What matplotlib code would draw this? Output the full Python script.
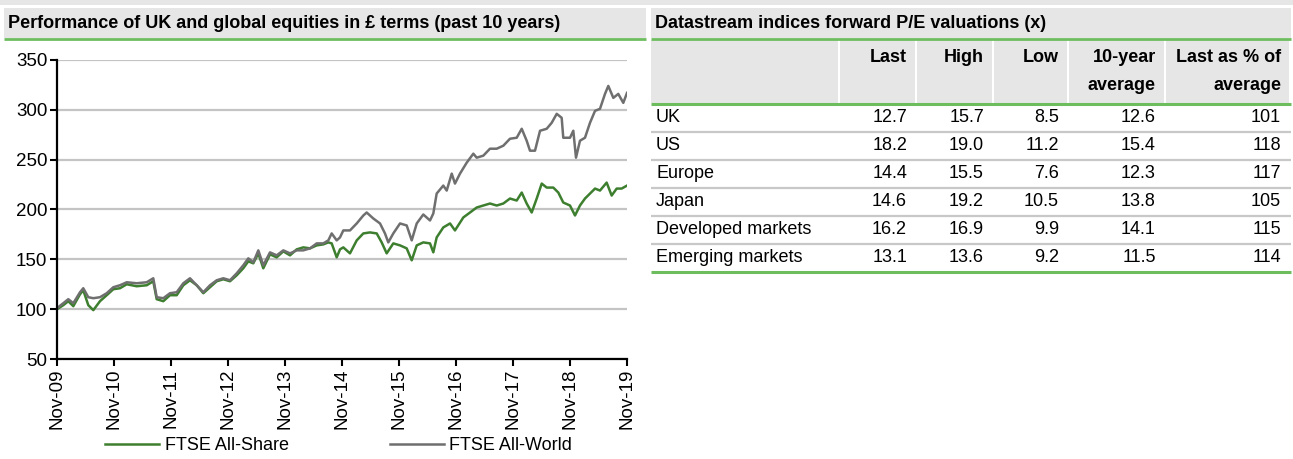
import matplotlib.pyplot as plt
from matplotlib.patches import Rectangle

plt.rcParams['font.family'] = ['Liberation Sans', 'DejaVu Sans']

# ---- chart data (years since Nov-09) ----
years_world = [0.0, 0.111, 0.198, 0.286, 0.404, 0.461, 0.549, 0.637, 0.754, 0.872,
               0.988, 1.105, 1.223, 1.398, 1.574, 1.689, 1.749, 1.865, 1.982, 2.1,
               2.216, 2.333, 2.451, 2.567, 2.684, 2.802, 2.918, 3.035, 3.153, 3.268,
               3.356, 3.444, 3.532, 3.619, 3.737, 3.854, 3.970, 4.088, 4.205, 4.321,
               4.439, 4.556, 4.672, 4.760, 4.819, 4.907, 4.965, 5.023, 5.140, 5.258,
               5.374, 5.433, 5.549, 5.667, 5.754, 5.812, 5.9, 6.018, 6.135, 6.223,
               6.311, 6.426, 6.544, 6.602, 6.661, 6.777, 6.837, 6.925, 6.982, 7.070,
               7.188, 7.304, 7.363, 7.479, 7.596, 7.714, 7.830, 7.947, 8.065, 8.153,
               8.240, 8.298, 8.386, 8.474, 8.591, 8.679, 8.767, 8.854, 8.882, 9.0,
               9.058, 9.105, 9.175, 9.263, 9.351, 9.439, 9.526, 9.614, 9.672, 9.760,
               9.847, 9.935, 10.0]
ftse_world = [101, 106, 110, 106, 117, 121, 112, 111, 112, 116,
              122, 124, 127, 126, 127, 131, 112, 111, 116, 117,
              126, 131, 124, 117, 124, 129, 131, 129, 136, 144,
              151, 147, 159, 144, 157, 154, 159, 156, 159, 159,
              161, 166, 166, 169, 176, 169, 172, 179, 179, 186,
              194, 197, 191, 186, 176, 167, 176, 186, 184, 169,
              186, 195, 189, 196, 216, 224, 219, 236, 226, 236,
              247, 256, 252, 254, 261, 261, 264, 271, 272, 281,
              269, 259, 259, 279, 281, 287, 296, 292, 272, 272,
              279, 252, 269, 272, 287, 299, 301, 316, 324, 312,
              316, 307, 317]

years_share = [0.0, 0.111, 0.198, 0.286, 0.404, 0.461, 0.549, 0.637, 0.754, 0.872,
               0.988, 1.105, 1.223, 1.398, 1.574, 1.689, 1.749, 1.865, 1.982, 2.1,
               2.216, 2.333, 2.451, 2.567, 2.684, 2.802, 2.918, 3.035, 3.153, 3.268,
               3.356, 3.444, 3.532, 3.619, 3.737, 3.854, 3.970, 4.088, 4.205, 4.321,
               4.439, 4.556, 4.672, 4.760, 4.819, 4.907, 4.965, 5.023, 5.140, 5.258,
               5.374, 5.491, 5.609, 5.696, 5.784, 5.9, 6.018, 6.135, 6.223, 6.311,
               6.426, 6.544, 6.602, 6.661, 6.777, 6.895, 6.982, 7.128, 7.246, 7.363,
               7.479, 7.596, 7.714, 7.830, 7.947, 8.065, 8.153, 8.240, 8.328, 8.416,
               8.504, 8.591, 8.707, 8.795, 8.882, 9.0, 9.088, 9.175, 9.263, 9.351,
               9.439, 9.526, 9.643, 9.731, 9.819, 9.906, 10.0]
ftse_share = [100, 104, 108, 103, 115, 119, 104, 99, 108, 114,
              120, 121, 125, 123, 124, 128, 110, 108, 114, 114,
              124, 129, 124, 116, 122, 128, 130, 128, 134, 141,
              148, 146, 156, 141, 155, 152, 158, 154, 160, 162,
              161, 164, 165, 167, 166, 152, 160, 162, 156, 169,
              176, 177, 176, 167, 156, 166, 164, 161, 149, 164,
              167, 166, 157, 172, 182, 186, 179, 192, 197, 202,
              204, 206, 204, 206, 211, 209, 217, 206, 197, 211,
              226, 222, 222, 217, 207, 204, 194, 204, 211, 216,
              221, 219, 227, 214, 221, 221, 224]

x_tick_labels = ['Nov-09', 'Nov-10', 'Nov-11', 'Nov-12', 'Nov-13', 'Nov-14',
                 'Nov-15', 'Nov-16', 'Nov-17', 'Nov-18', 'Nov-19']
series_names = ['FTSE All-Share', 'FTSE All-World']

# ---- table data ----
regions = ['UK', 'US', 'Europe', 'Japan', 'Developed markets', 'Emerging markets']
pe_last = ['12.7', '18.2', '14.4', '14.6', '16.2', '13.1']
pe_high = ['15.7', '19.0', '15.5', '19.2', '16.9', '13.6']
pe_low = ['8.5', '11.2', '7.6', '10.5', '9.9', '9.2']
pe_avg = ['12.6', '15.4', '12.3', '13.8', '14.1', '11.5']
pe_pct = ['101', '118', '117', '105', '115', '114']
col_headers = [('Last', ''), ('High', ''), ('Low', ''), ('10-year', 'average'),
               ('Last as % of', 'average')]

chart_title = 'Performance of UK and global equities in £ terms (past 10 years)'
table_title = 'Datastream indices forward P/E valuations (x)'

GREY_BAR = '#e6e6e6'
GREEN_RULE = '#6dbd5f'
ROW_LINE = '#c8c8c8'
GREEN = '#3d7f2f'
GREY = '#6f6f6f'
FS = 13

W, H = 1293, 459
fig = plt.figure(figsize=(W / 100, H / 100), dpi=100)

# page furniture drawn in pixel coordinates
bg = fig.add_axes([0, 0, 1, 1])
bg.set_xlim(0, W)
bg.set_ylim(H, 0)
bg.axis('off')

bg.add_patch(Rectangle((0, 0), W, 5, color=GREY_BAR, lw=0))
for x0, x1, title in [(4, 646, chart_title), (651, 1291, table_title)]:
    bg.add_patch(Rectangle((x0, 8), x1 - x0, 30, color=GREY_BAR, lw=0))
    bg.plot([x0, x1], [38.5, 38.5], color=GREEN_RULE, lw=2, solid_capstyle='butt')
    bg.text(x0 + 4, 23, title, fontsize=FS, fontweight='bold', va='center')

# table
col_edges = [651, 840, 917, 994, 1069, 1166, 1291]
for i in range(len(col_edges) - 1):
    bg.add_patch(Rectangle((col_edges[i], 40), col_edges[i + 1] - col_edges[i] - 2, 63,
                           color=GREY_BAR, lw=0))
for j, (l1, l2) in enumerate(col_headers):
    xr = col_edges[j + 2] - 10
    bg.text(xr, 57, l1, fontsize=FS, fontweight='bold', ha='right', va='center')
    if l2:
        bg.text(xr, 86, l2, fontsize=FS, fontweight='bold', ha='right', va='center')

row_h = 28
top = 104
columns = [pe_last, pe_high, pe_low, pe_avg, pe_pct]
for i, name in enumerate(regions):
    yc = top + row_h * i + row_h / 2
    bg.text(656, yc, name, fontsize=FS, va='center')
    for j, col in enumerate(columns):
        bg.text(col_edges[j + 2] - 10, yc, col[i], fontsize=FS, ha='right', va='center')
    if 0 < i:
        yl = top + row_h * i
        bg.plot([651, 1291], [yl, yl], color=ROW_LINE, lw=1.6, solid_capstyle='butt')
for yl in [top, top + row_h * len(regions)]:
    bg.plot([651, 1291], [yl, yl], color=GREEN_RULE, lw=2.2, solid_capstyle='butt')

# chart
ax = fig.add_axes([57 / W, 1 - 359 / H, 570 / W, 299 / H])
ax.plot(years_share, ftse_share, color=GREEN, lw=1.8, label=series_names[0])
ax.plot(years_world, ftse_world, color=GREY, lw=1.8, label=series_names[1])
ax.set_xlim(0, 10)
ax.set_ylim(50, 350)
ax.set_yticks(range(50, 351, 50))
ax.set_xticks(range(11))
ax.set_xticklabels(x_tick_labels, rotation=90)
ax.grid(axis='y', color='#c4c4c4', lw=1.6)
ax.set_axisbelow(True)
for s in ['top', 'right']:
    ax.spines[s].set_visible(False)
for s in ['left', 'bottom']:
    ax.spines[s].set_linewidth(1.6)
ax.tick_params(direction='out', length=5, width=1.5, labelsize=13.5, pad=2)
ax.patch.set_alpha(0)

fig.legend(loc='center left', bbox_to_anchor=(105 / W, 1 - 446 / H), ncol=2,
           frameon=False, fontsize=FS, handlelength=3.0, handletextpad=0.3,
           columnspacing=5.6, borderpad=0, borderaxespad=0)

fig.savefig('out.png', dpi=100)
